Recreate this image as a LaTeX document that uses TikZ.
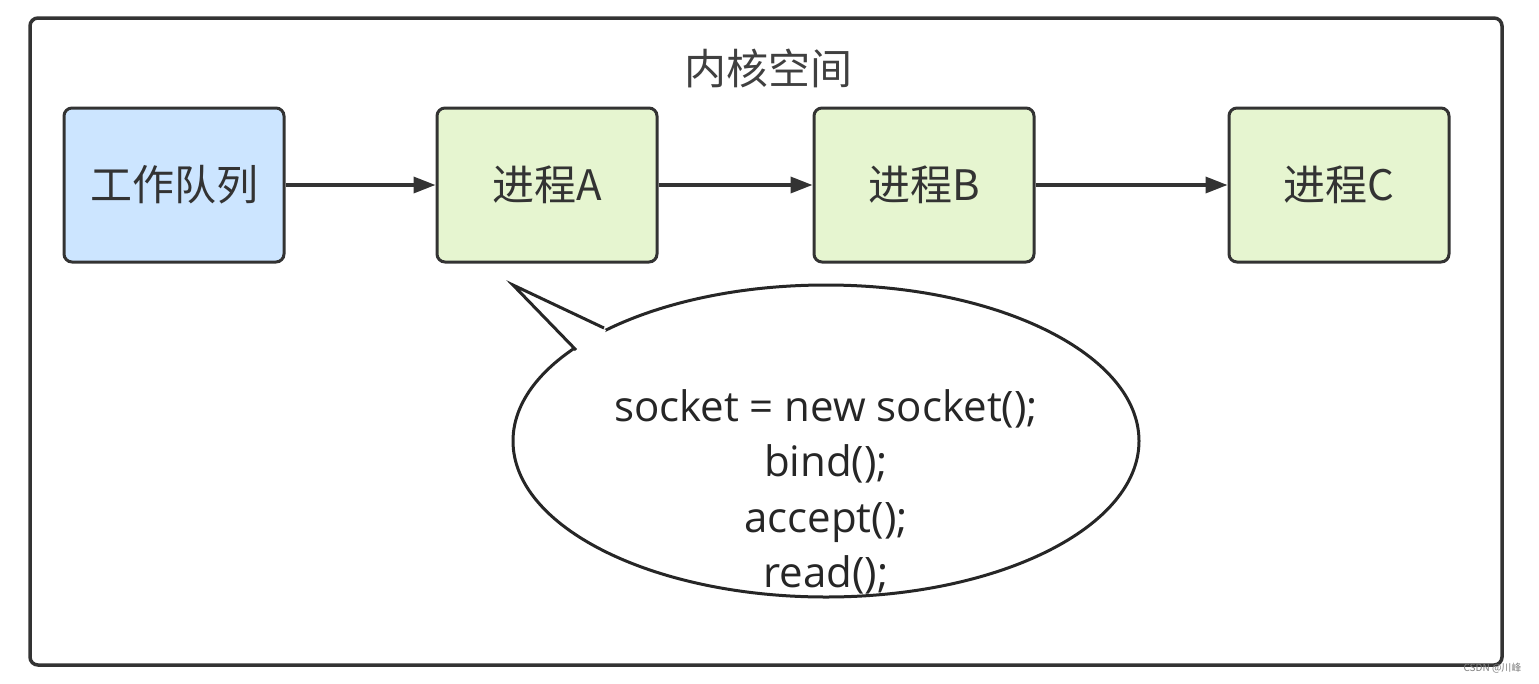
\documentclass[tikz,border=0pt]{standalone}
\usepackage{fontspec}
\setmainfont{Noto Sans CJK SC}
\newfontfamily\codefont{Open Sans}
\usetikzlibrary{arrows.meta}
\begin{document}
\begin{tikzpicture}[x=1pt,y=-1pt,
  box/.style={draw=black!80,line width=3pt,rounded corners=8pt,minimum width=220pt,minimum height=154pt,inner sep=0pt,font=\fontsize{42}{48}\selectfont,text=black!80},
  arr/.style={-{Triangle[length=22pt,width=16pt]},line width=3.5pt,draw=black!80}]
\useasboundingbox (0,0) rectangle (1539,683);
\fill[white] (0,0) rectangle (1539,683);
\draw[black!80,line width=3.5pt,rounded corners=8pt] (30,18) rectangle (1502,665);
\node[font=\fontsize{42}{48}\selectfont,text=black!75] (title) at (768,68) {内核空间};
\node[box,fill={rgb,255:red,204;green,229;blue,255}] (q) at (174,185) {工作队列};
\node[box,fill={rgb,255:red,230;green,245;blue,208}] (a) at (547,185) {进程A};
\node[box,fill={rgb,255:red,230;green,245;blue,208}] (b) at (924,185) {进程B};
\node[box,fill={rgb,255:red,230;green,245;blue,208}] (c) at (1339,185) {进程C};
\draw[arr] (q) -- (a);
\draw[arr] (a) -- (b);
\draw[arr] (b) -- (c);
\draw[black!85,line width=3pt,fill=white] (826,441) ellipse [x radius=313, y radius=156];
\fill[white] (578,352) -- (513,285) -- (606,330) -- (600,345) -- cycle;
\coordinate (tip) at (513,285);
\draw[black!85,line width=3pt] (576,350) -- (tip) -- (604,328);
\node[align=center,font=\codefont\fontsize{42}{55.5}\selectfont,text=black!85] (code) at (826,492) {socket = new socket();\\bind();\\accept();\\read();};
\node[font=\fontsize{10}{12}\selectfont,text=black!50,anchor=east] (wm) at (1525,668) {CSDN @川峰};
\end{tikzpicture}
\end{document}
